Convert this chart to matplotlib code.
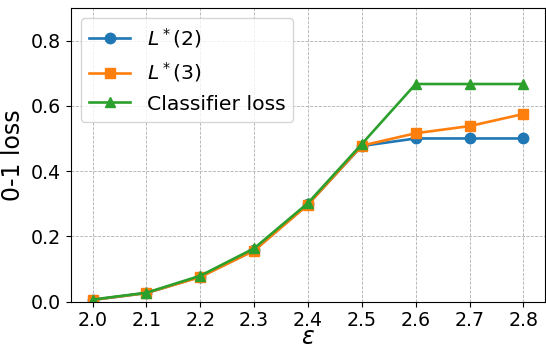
import matplotlib
matplotlib.use("Agg")
import matplotlib.pyplot as plt

eps = [2.0, 2.1, 2.2, 2.3, 2.4, 2.5, 2.6, 2.7, 2.8]
loss_l2 = [0.005, 0.026, 0.076, 0.157, 0.298, 0.477, 0.500, 0.500, 0.500]
loss_l3 = [0.005, 0.026, 0.075, 0.156, 0.297, 0.478, 0.516, 0.538, 0.575]
loss_clf = [0.006, 0.027, 0.079, 0.163, 0.302, 0.483, 0.667, 0.667, 0.667]

fig, ax = plt.subplots(figsize=(5.46, 3.49), dpi=100)
ax.plot(eps, loss_l2, marker="o", markersize=7.5, linewidth=1.9, color="#1f77b4", label=r"$L^*(2)$")
ax.plot(eps, loss_l3, marker="s", markersize=7.5, linewidth=1.9, color="#ff7f0e", label=r"$L^*(3)$")
ax.plot(eps, loss_clf, marker="^", markersize=7.5, linewidth=1.9, color="#2ca02c", label="Classifier loss")

ax.set_ylim(0, 0.9)
ax.set_xticks(eps)
ax.set_yticks([0.0, 0.2, 0.4, 0.6, 0.8])
ax.tick_params(labelsize=13.7)
ax.set_xlabel(r"$\epsilon$", fontsize=17, labelpad=-3.5)
ax.set_ylabel("0-1 loss", fontsize=17, labelpad=4)
ax.grid(True, linestyle="--", linewidth=0.6, color="#b0b0b0")
ax.legend(loc="upper left", fontsize=14.7)

fig.subplots_adjust(left=0.130, right=0.998, top=0.977, bottom=0.136)
fig.savefig("out.png", dpi=100)
